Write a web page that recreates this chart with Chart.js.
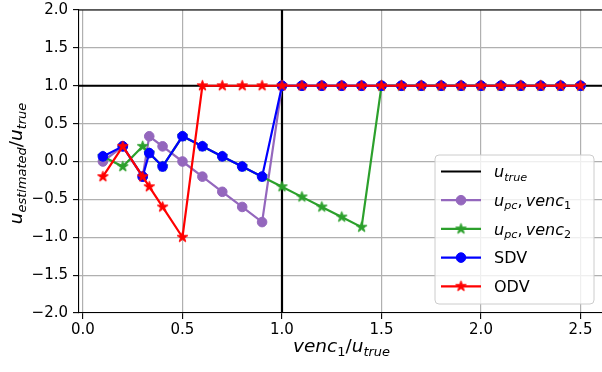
<!DOCTYPE html>
<html>
<head>
<meta charset="utf-8">
<script src="https://cdn.jsdelivr.net/npm/chart.js@4/dist/chart.umd.min.js"></script>
<style>
  html, body { margin: 0; padding: 0; background: #fff; }
  #wrap { width: 602px; height: 372px; }
</style>
</head>
<body>
<div id="wrap"><canvas id="c" width="602" height="372"></canvas></div>
<script>
// venc1 / u_true sampling points
const xValues = [0.1, 0.2, 0.3, 0.333, 0.4, 0.5, 0.6, 0.7, 0.8, 0.9,
                 1.0, 1.1, 1.2, 1.3, 1.4, 1.5, 1.6, 1.7, 1.8, 1.9,
                 2.0, 2.1, 2.2, 2.3, 2.4, 2.5];

// u_estimated / u_true for each method
const upcVenc1 = [0.0, 0.2, -0.2, 0.333, 0.2, 0.0, -0.2, -0.4, -0.6, -0.8,
                  1.0, 1.0, 1.0, 1.0, 1.0, 1.0, 1.0, 1.0, 1.0, 1.0,
                  1.0, 1.0, 1.0, 1.0, 1.0, 1.0];
const upcVenc2 = [0.067, -0.067, 0.2, 0.111, -0.067, 0.333, 0.2, 0.067, -0.067, -0.2,
                  -0.333, -0.467, -0.6, -0.733, -0.867, 1.0, 1.0, 1.0, 1.0, 1.0,
                  1.0, 1.0, 1.0, 1.0, 1.0, 1.0];
const sdv      = [0.067, 0.2, -0.2, 0.111, -0.067, 0.333, 0.2, 0.067, -0.067, -0.2,
                  1.0, 1.0, 1.0, 1.0, 1.0, 1.0, 1.0, 1.0, 1.0, 1.0,
                  1.0, 1.0, 1.0, 1.0, 1.0, 1.0];
const odv      = [-0.2, 0.2, -0.2, -0.333, -0.6, -1.0, 1.0, 1.0, 1.0, 1.0,
                  1.0, 1.0, 1.0, 1.0, 1.0, 1.0, 1.0, 1.0, 1.0, 1.0,
                  1.0, 1.0, 1.0, 1.0, 1.0, 1.0];

// reference levels: true velocity ratio and venc1 = u_true
const uTrueLevel = 1.0;
const vencUnity = 1.0;

// tick labels
const xTicks = [0.0, 0.5, 1.0, 1.5, 2.0, 2.5];
const yTicks = [-2.0, -1.5, -1.0, -0.5, 0.0, 0.5, 1.0, 1.5, 2.0];

const FONT = "'DejaVu Sans', 'Liberation Sans', sans-serif";
Chart.defaults.font.family = FONT;

const C_PURPLE = '#9467bd', C_GREEN = '#2ca02c', C_BLUE = '#0000ff', C_RED = '#ff0000';

// filled five-point star marker
function starMarker(color, r) {
  const s = Math.ceil(2 * r + 3);
  const cv = document.createElement('canvas');
  cv.width = s; cv.height = s;
  const g = cv.getContext('2d');
  const cx = s / 2, cy = s / 2, ri = r * 0.382;
  g.beginPath();
  for (let k = 0; k < 10; k++) {
    const rr = k % 2 === 0 ? r : ri;
    const a = -Math.PI / 2 + k * Math.PI / 5;
    const px = cx + rr * Math.cos(a), py = cy + rr * Math.sin(a);
    if (k === 0) g.moveTo(px, py); else g.lineTo(px, py);
  }
  g.closePath();
  g.fillStyle = color; g.strokeStyle = color; g.lineWidth = 1; g.lineJoin = 'miter';
  g.fill(); g.stroke();
  return cv;
}
const STAR_R = 5.6;
const starGreen = starMarker(C_GREEN, STAR_R);
const starRed = starMarker(C_RED, STAR_R);
const DOT_R = 4.8;
const LW = 2.2;

function pts(ys) { return xValues.map((x, i) => ({ x: x, y: ys[i] })); }

function series(label, ys, color, style, order) {
  return {
    label: label, data: pts(ys), showLine: true,
    borderColor: color, backgroundColor: color, borderWidth: LW,
    pointStyle: style, pointRadius: style === 'circle' ? DOT_R : STAR_R,
    pointBorderWidth: 1, pointBorderColor: color, pointBackgroundColor: color,
    pointHoverRadius: style === 'circle' ? DOT_R : STAR_R,
    order: order, tension: 0
  };
}

// rich text with italic math letters and subscripts
function richWidth(ctx, parts, size) {
  let w = 0;
  for (const p of parts) {
    const s = p.sub ? size * 0.7 : size;
    ctx.font = (p.i ? 'italic ' : '') + s + 'px ' + FONT;
    w += ctx.measureText(p.t).width + (p.gap || 0) * size;
  }
  return w;
}
function drawRich(ctx, parts, x, y, size, align) {
  ctx.save();
  const w = richWidth(ctx, parts, size);
  let cx = align === 'center' ? x - w / 2 : x;
  ctx.textBaseline = 'alphabetic';
  ctx.textAlign = 'left';
  ctx.fillStyle = '#000';
  for (const p of parts) {
    const s = p.sub ? size * 0.7 : size;
    ctx.font = (p.i ? 'italic ' : '') + s + 'px ' + FONT;
    ctx.fillText(p.t, cx, y + (p.sub ? size * 0.2 : 0));
    cx += ctx.measureText(p.t).width + (p.gap || 0) * size;
  }
  ctx.restore();
}

const LBL_UTRUE = [{ t: 'u', i: 1 }, { t: 'true', i: 1, sub: 1 }];
const LBL_V1 = [{ t: 'u', i: 1 }, { t: 'pc', i: 1, sub: 1 }, { t: ',', gap: 0.2 }, { t: 'venc', i: 1 }, { t: '1', sub: 1 }];
const LBL_V2 = [{ t: 'u', i: 1 }, { t: 'pc', i: 1, sub: 1 }, { t: ',', gap: 0.2 }, { t: 'venc', i: 1 }, { t: '2', sub: 1 }];
const LBL_SDV = [{ t: 'SDV' }];
const LBL_ODV = [{ t: 'ODV' }];
const XLABEL = [{ t: 'venc', i: 1 }, { t: '1', sub: 1 }, { t: '/' }, { t: 'u', i: 1 }, { t: 'true', i: 1, sub: 1 }];
const YLABEL = [{ t: 'u', i: 1 }, { t: 'estimated', i: 1, sub: 1 }, { t: '/' }, { t: 'u', i: 1 }, { t: 'true', i: 1, sub: 1 }];

// black reference lines under the series
const refLines = {
  id: 'refLines',
  beforeDatasetsDraw(chart) {
    const { ctx, chartArea: a, scales } = chart;
    const y = scales.y.getPixelForValue(uTrueLevel);
    const x = scales.x.getPixelForValue(vencUnity);
    ctx.save();
    ctx.strokeStyle = '#000'; ctx.lineWidth = LW;
    ctx.beginPath(); ctx.moveTo(a.left, y); ctx.lineTo(a.right, y); ctx.stroke();
    ctx.beginPath(); ctx.moveTo(x, a.top); ctx.lineTo(x, a.bottom); ctx.stroke();
    ctx.restore();
  }
};

// top spine, axis titles and legend
const decor = {
  id: 'decor',
  afterDatasetsDraw(chart) {
    const { ctx, chartArea: a } = chart;
    ctx.save();
    ctx.strokeStyle = '#000'; ctx.lineWidth = 1.1;
    ctx.beginPath(); ctx.moveTo(a.left, a.top); ctx.lineTo(a.right, a.top); ctx.stroke();
    ctx.restore();
  },
  afterDraw(chart) {
    const { ctx, chartArea: a } = chart;
    // axis titles
    drawRich(ctx, XLABEL, (a.left + 604) / 2, 352, 18.5, 'center');
    ctx.save();
    ctx.translate(22, (a.top + a.bottom) / 2 + 2);
    ctx.rotate(-Math.PI / 2);
    drawRich(ctx, YLABEL, 0, 0, 18.5, 'center');
    ctx.restore();

    // legend box
    const bx = 435, by = 155, bw = 159, bh = 149, r = 4;
    ctx.save();
    ctx.beginPath();
    ctx.moveTo(bx + r, by);
    ctx.arcTo(bx + bw, by, bx + bw, by + bh, r);
    ctx.arcTo(bx + bw, by + bh, bx, by + bh, r);
    ctx.arcTo(bx, by + bh, bx, by, r);
    ctx.arcTo(bx, by, bx + bw, by, r);
    ctx.closePath();
    ctx.fillStyle = 'rgba(255,255,255,0.8)';
    ctx.fill();
    ctx.strokeStyle = '#cccccc'; ctx.lineWidth = 1;
    ctx.stroke();

    const entries = [
      { lbl: LBL_UTRUE, color: '#000', mk: null },
      { lbl: LBL_V1, color: C_PURPLE, mk: 'dot' },
      { lbl: LBL_V2, color: C_GREEN, mk: starGreen },
      { lbl: LBL_SDV, color: C_BLUE, mk: 'dot' },
      { lbl: LBL_ODV, color: C_RED, mk: starRed }
    ];
    const x0 = 441, x1 = 481, xm = 461, tx = 494;
    entries.forEach((e, k) => {
      const cy = 171.5 + k * 28.7;
      ctx.strokeStyle = e.color; ctx.lineWidth = LW;
      ctx.beginPath(); ctx.moveTo(x0, cy); ctx.lineTo(x1, cy); ctx.stroke();
      if (e.mk === 'dot') {
        ctx.fillStyle = e.color;
        ctx.beginPath(); ctx.arc(xm, cy, DOT_R, 0, 2 * Math.PI); ctx.fill();
        ctx.lineWidth = 1; ctx.stroke();
      } else if (e.mk) {
        ctx.drawImage(e.mk, xm - e.mk.width / 2, cy - e.mk.height / 2);
      }
      drawRich(ctx, e.lbl, tx, cy + 5.8, 16, 'left');
    });
    ctx.restore();
  }
};

const fmt = v => v.toFixed(1).replace('-', '\u2212');

new Chart(document.getElementById('c'), {
  type: 'scatter',
  data: {
    datasets: [
      series('upc venc1', upcVenc1, C_PURPLE, 'circle', 4),
      series('upc venc2', upcVenc2, C_GREEN, starGreen, 3),
      series('SDV', sdv, C_BLUE, 'circle', 2),
      series('ODV', odv, C_RED, starRed, 1)
    ]
  },
  options: {
    responsive: false,
    animation: false,
    events: [],
    layout: { autoPadding: false, padding: { top: 10, right: 0, left: 0, bottom: 0 } },
    plugins: { legend: { display: false }, tooltip: { enabled: false } },
    scales: {
      x: {
        type: 'linear', min: -0.02, max: 2.608,
        afterBuildTicks: s => { s.ticks = xTicks.map(v => ({ value: v })); },
        afterFit: s => { s.height = 59; s.paddingLeft = 0; s.paddingRight = 0; },
        grid: { color: '#b0b0b0', lineWidth: 1.2, tickColor: '#000', tickLength: 6, tickWidth: 1.1 },
        border: { color: '#000', width: 1.1 },
        ticks: { color: '#000', font: { size: 15 }, padding: 2, maxRotation: 0, autoSkip: false, callback: v => fmt(v) }
      },
      y: {
        type: 'linear', min: -2.0, max: 2.0,
        afterBuildTicks: s => { s.ticks = yTicks.map(v => ({ value: v })); },
        afterFit: s => { s.width = 79; s.paddingTop = 0; s.paddingBottom = 0; },
        grid: { color: '#b0b0b0', lineWidth: 1.2, tickColor: '#000', tickLength: 6, tickWidth: 1.1 },
        border: { color: '#000', width: 1.1 },
        ticks: { color: '#000', font: { size: 15 }, padding: 5, autoSkip: false, callback: v => fmt(v) }
      }
    }
  },
  plugins: [refLines, decor]
});
</script>
</body>
</html>
